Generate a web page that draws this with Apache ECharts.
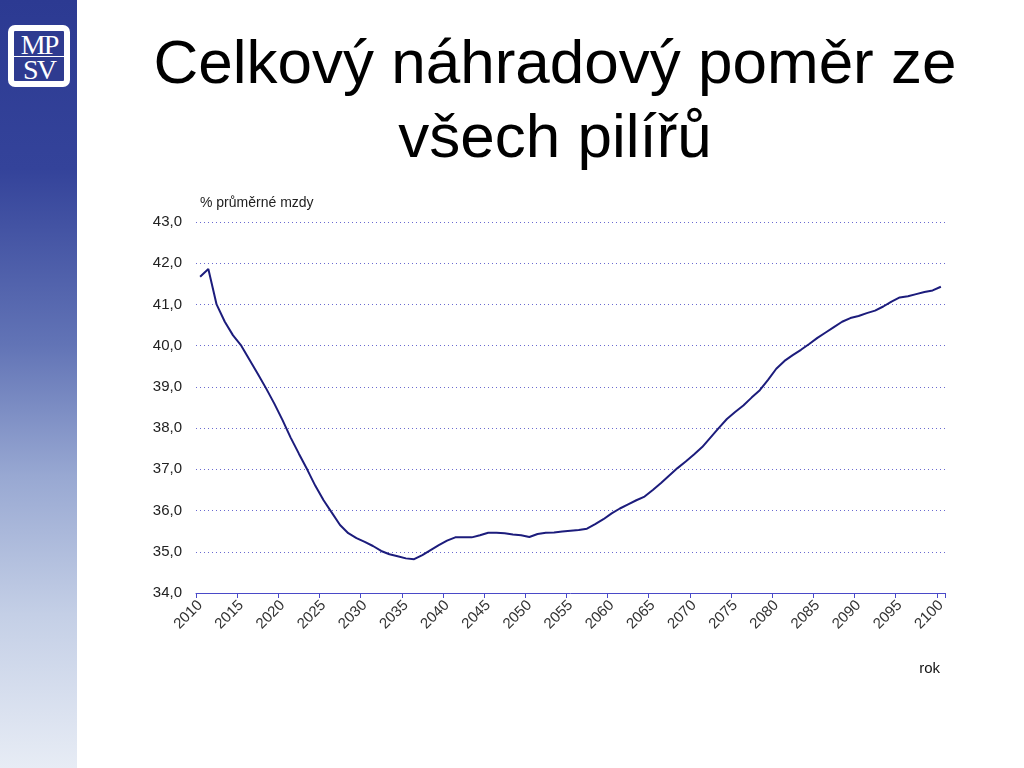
<!DOCTYPE html>
<html>
<head>
<meta charset="utf-8">
<script src="https://cdn.jsdelivr.net/npm/echarts@6/dist/echarts.min.js"></script>
<style>
html,body{margin:0;padding:0;background:#fff;}
#side{position:absolute;left:0;top:0;width:77px;height:768px;
background:linear-gradient(to bottom,#2c3a92 0%,#34439a 22%,#6274b6 45%,#98a8d2 62%,#c4cfe6 80%,#e7ecf5 100%);}
#logo{position:absolute;left:8px;top:25px;width:50px;height:50px;border:6px solid #fff;border-radius:7px;background:#2e3b90;}
#logo .t{position:absolute;left:0;width:50px;text-align:center;color:#fff;font-family:"Liberation Serif",serif;font-size:28px;line-height:25px;letter-spacing:-2px;}
#logo .l{position:absolute;left:0;top:25px;width:50px;height:1px;background:#fff;}
#chart{position:absolute;left:0;top:0;width:1024px;height:768px;}
</style>
</head>
<body>
<div id="side"><div id="logo"><div class="t" style="top:1px">MP</div><div class="l"></div><div class="t" style="top:26px">SV</div></div></div>
<div id="chart"></div>
<script>
var titleLines = ['Celkový náhradový poměr ze', 'všech pilířů'];
var yAxisTitle = '% průměrné mzdy';
var xAxisTitle = 'rok';
var years = ['2010','2011','2012','2013','2014','2015','2016','2017','2018','2019',
'2020','2021','2022','2023','2024','2025','2026','2027','2028','2029',
'2030','2031','2032','2033','2034','2035','2036','2037','2038','2039',
'2040','2041','2042','2043','2044','2045','2046','2047','2048','2049',
'2050','2051','2052','2053','2054','2055','2056','2057','2058','2059',
'2060','2061','2062','2063','2064','2065','2066','2067','2068','2069',
'2070','2071','2072','2073','2074','2075','2076','2077','2078','2079',
'2080','2081','2082','2083','2084','2085','2086','2087','2088','2089',
'2090','2091','2092','2093','2094','2095','2096','2097','2098','2099','2100'];
var replacementRatio = [41.67,41.86,41.00,40.58,40.25,40.00,39.66,39.32,38.97,38.60,
38.20,37.77,37.38,37.00,36.60,36.25,35.95,35.65,35.45,35.33,
35.24,35.14,35.02,34.94,34.89,34.84,34.82,34.92,35.04,35.16,
35.27,35.35,35.35,35.35,35.40,35.46,35.46,35.45,35.42,35.40,
35.36,35.43,35.46,35.47,35.49,35.51,35.53,35.56,35.67,35.79,
35.93,36.05,36.15,36.25,36.34,36.50,36.67,36.85,37.03,37.19,
37.36,37.54,37.77,38.00,38.22,38.39,38.55,38.74,38.92,39.17,
39.44,39.63,39.77,39.90,40.04,40.19,40.32,40.45,40.58,40.67,
40.72,40.79,40.85,40.95,41.07,41.17,41.20,41.25,41.30,41.34,41.43];
var yMin = 34, yMax = 43, yStep = 1;

var chart = echarts.init(document.getElementById('chart'), null, {renderer:'canvas'});
chart.setOption({
  animation: false,
  backgroundColor: 'transparent',
  textStyle: {fontFamily: 'Liberation Sans, Arial, sans-serif'},
  graphic: [
    {type:'text', x: 555, y: 66, style:{text: titleLines[0], font: '62px "Liberation Sans", Arial, sans-serif', fill:'#000', align:'center', verticalAlign:'middle'}},
    {type:'text', x: 555, y: 140, style:{text: titleLines[1], font: '62px "Liberation Sans", Arial, sans-serif', fill:'#000', align:'center', verticalAlign:'middle'}},
    {type:'text', x: 940, y: 669, style:{text: xAxisTitle, font: '15px "Liberation Sans", Arial, sans-serif', fill:'#111', align:'right', verticalAlign:'middle'}}
  ],
  grid: {left: 196, right: 79, top: 222, bottom: 175, containLabel: false},
  xAxis: {
    type: 'category',
    data: years,
    boundaryGap: true,
    axisLine: {show: true, lineStyle: {color: '#4a4ac8', width: 1}},
    axisTick: {show: true, interval: 4, length: 5, lineStyle: {color: '#4a4ac8'}},
    axisLabel: {interval: 4, rotate: 45, fontSize: 15, color: '#333', margin: 10, fontFamily: 'Liberation Sans, Arial, sans-serif'},
    splitLine: {show: false}
  },
  yAxis: {
    type: 'value',
    min: yMin, max: yMax, interval: yStep,
    name: yAxisTitle,
    nameLocation: 'end',
    nameGap: 12,
    nameTextStyle: {align: 'left', fontSize: 14, color: '#222', padding: [0,0,0,4], fontFamily: 'Liberation Sans, Arial, sans-serif'},
    axisLine: {show: false},
    axisTick: {show: false},
    axisLabel: {fontSize: 15, color: '#222', margin: 14, formatter: function(v){return v.toFixed(1).replace('.', ',');}, fontFamily: 'Liberation Sans, Arial, sans-serif'},
    splitLine: {show: true, lineStyle: {type: [1, 3], color: '#6a6ad0', width: 1}}
  },
  series: [{
    type: 'line',
    data: replacementRatio,
    showSymbol: false,
    smooth: false,
    lineStyle: {color: '#1c1c7c', width: 2},
    z: 3
  }]
});
</script>
</body>
</html>
